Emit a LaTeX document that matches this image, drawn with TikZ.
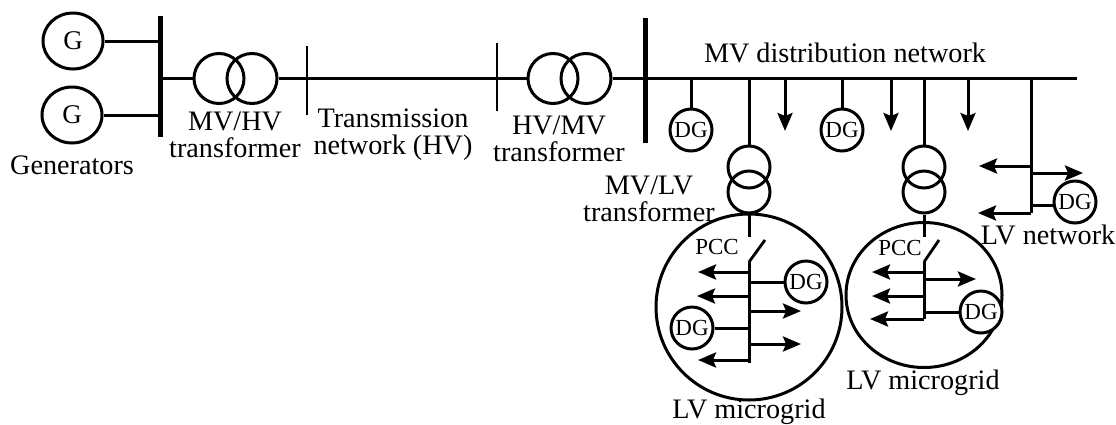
\documentclass[tikz,border=0pt]{standalone}
\usepackage{fontspec}
\setmainfont{Liberation Serif}
\usetikzlibrary{arrows.meta,shapes.geometric}
\tikzset{
  wire/.style={line width=3pt},
  barthin/.style={line width=2.8pt},
  barthick/.style={line width=5pt},
  load/.style={line width=3pt,-{Stealth[length=18pt,width=15pt,inset=3pt]}},
  ring/.style={draw,line width=3pt,circle,inner sep=0pt,minimum size=#1},
  gen/.style={draw,line width=3pt,ellipse,inner sep=0pt,minimum width=60pt,minimum height=56pt,fill=white,font=\fontsize{27}{27}\selectfont},
  dg/.style={ring=42pt,fill=white,font=\fontsize{23}{23}\selectfont},
  lab/.style={font=\fontsize{28.2}{27}\selectfont,inner sep=0pt,align=center},
  pcc/.style={font=\fontsize{23}{23}\selectfont,inner sep=0pt}
}
\begin{document}
\begin{tikzpicture}[x=1pt,y=-1pt]
\useasboundingbox (0,0) rectangle (1116,424);
% generators and first busbar
\node[gen] (G1) at (73,41) {G};
\node[gen] (G2) at (72,115) {G};
\coordinate (busA top) at (160,16);
\coordinate (busA bot) at (160,137);
\draw[barthick] (busA top) -- (busA bot);
\draw[wire] (G1) -- (G1 -| busA top);
\draw[wire] (G2) -- (G2 -| busA top);
% MV/HV transformer
\node[ring=50pt] (T1a) at (219,78.5) {};
\node[ring=50pt] (T1b) at (252,78.5) {};
\coordinate (busB top) at (307,46);
\coordinate (busB bot) at (307,115);
\draw[barthin] (busB top) -- (busB bot);
\draw[wire] (T1a.west) -- (T1a.west -| busA top);
\draw[wire] (T1b.east) -- (T1b.east -| busB top);
% HV/MV transformer
\coordinate (busC top) at (497,43);
\coordinate (busC bot) at (497,111);
\draw[barthin] (busC top) -- (busC bot);
\node[ring=50pt] (T2a) at (553,78.5) {};
\node[ring=50pt] (T2b) at (586,78.5) {};
\coordinate (busD top) at (645,18);
\coordinate (busD bot) at (645,143);
\coordinate (mvline) at (645,78);
\coordinate (mvend) at (1077,78);
\draw[barthick] (busD top) -- (busD bot);
\draw[wire] (mvline) -- (mvend);
\draw[wire] (T2a.west) -- (T2a.west -| busC top);
\draw[wire] (T2b.east) -- (T2b.east -| busD top);
\draw[wire] (busB top |- T1b.east) -- (busC top |- T2a.west);
% DG and loads on the MV line
\node[dg] (DGa) at (691,130) {DG};
\node[dg] (DGb) at (842,130) {DG};
\draw[wire] (DGa) -- (DGa |- mvline);
\draw[wire] (DGb) -- (DGb |- mvline);
\foreach \x in {785,891,968}{
  \coordinate (mvload\x) at (\x,131);
  \draw[load] (mvload\x |- mvline) -- (mvload\x);
}
% left microgrid
\node[ring=186pt] (MGa) at (749,307) {};
\node[ring=42pt] (T3a) at (749,167) {};
\node[ring=42pt] (T3b) at (749,192) {};
\coordinate (swa up) at (749,237);
\coordinate (swa pin) at (749,262);
\coordinate (swa tip) at (765,240);
\coordinate (feeda) at (749,363);
\draw[wire] (T3a) -- (T3a |- mvline);
\draw[wire] (T3b.south) -- (swa up);
\draw[barthin] (swa pin) -- (swa tip);
\draw[wire] (swa pin) -- (feeda);
\foreach \y/\t in {272/698,296/697,360/698,311/801,344/801}{
  \coordinate (loada\y) at (\t,\y);
  \draw[load] (feeda |- loada\y) -- (loada\y);
}
\node[dg] (DGc) at (806,282) {DG};
\node[dg] (DGd) at (692,328) {DG};
\draw[wire] (DGc) -- (DGc -| feeda);
\draw[wire] (DGd) -- (DGd -| feeda);
% right microgrid
\node[draw,line width=3pt,ellipse,inner sep=0pt,minimum width=156pt,minimum height=145pt] (MGb) at (924,295) {};
\node[ring=42pt] (T4a) at (924,167) {};
\node[ring=42pt] (T4b) at (924,192) {};
\coordinate (swb up) at (924,237);
\coordinate (swb pin) at (924,262);
\coordinate (swb tip) at (939,240);
\coordinate (feedb) at (924,319);
\draw[wire] (T4a) -- (T4a |- mvline);
\draw[wire] (T4b.south) -- (swb up);
\draw[barthin] (swb pin) -- (swb tip);
\draw[wire] (swb pin) -- (feedb);
\foreach \y/\t in {272/872,296/872,319/870,279/976}{
  \coordinate (loadb\y) at (\t,\y);
  \draw[load] (feedb |- loadb\y) -- (loadb\y);
}
\node[dg] (DGe) at (981,312) {DG};
\draw[wire] (DGe.west) -- (DGe.west -| feedb);
% LV network
\coordinate (lvend) at (1031,213);
\coordinate (lvtap) at (1031,205);
\draw[wire] (lvend |- mvline) -- (lvend);
\foreach \y/\t in {166/979,213/978,173/1083}{
  \coordinate (loadc\y) at (\t,\y);
  \draw[load] (lvend |- loadc\y) -- (loadc\y);
}
\node[dg] (DGf) at (1075,202) {DG};
\draw[wire] (lvtap) -- (lvtap -| DGf.west);
% labels
\node[lab] (gens) at (72,165) {Generators};
\node[lab] (t1l) at (235,134.5) {MV/HV\\transformer};
\node[lab] (hvl) at (393,134.5) {Transmission\\network (HV)};
\node[lab] (t2l) at (559,138.5) {HV/MV\\transformer};
\node[lab] (t3l) at (649,198.5) {MV/LV\\transformer};
\node[lab] (mvl) at (845,53) {MV distribution network};
\node[lab] (lvl) at (1048,235) {LV network};
\node[lab] (mgal) at (749,412) {LV microgrid};
\node[lab] (mgbl) at (923,383) {LV microgrid};
\node[pcc] (pcca) at (717,247) {PCC};
\node[pcc] (pccb) at (900,248) {PCC};
\end{tikzpicture}
\end{document}
